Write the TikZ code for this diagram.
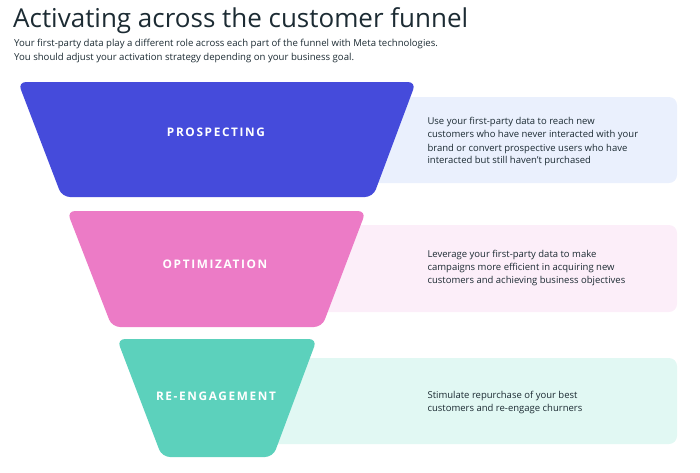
\documentclass[tikz,border=0pt]{standalone}
\usepackage{fontspec}
\usepackage{xcolor}
\setmainfont{Open Sans}
\newfontfamily\stagefont[LetterSpace=14]{Open Sans}
\usetikzlibrary{positioning}

\definecolor{prospblue}{HTML}{454BDB}
\definecolor{optpink}{HTML}{EC7BC6}
\definecolor{reteal}{HTML}{5CD1BC}
\definecolor{prospbg}{HTML}{EAF0FD}
\definecolor{optbg}{HTML}{FCEEF9}
\definecolor{rebg}{HTML}{E1F8F3}
\definecolor{inkgray}{HTML}{1C2B33}

\begin{document}
\begin{tikzpicture}[x=1pt,y=-1pt,
    stage/.style={text=white,font=\stagefont\bfseries\fontsize{11.8}{14}\selectfont},
    note/.style={anchor=west,align=left,text=inkgray,font=\fontsize{9.5}{13}\selectfont},
    panel/.style={rounded corners=8pt}]
  \useasboundingbox (0,0) rectangle (700,472);

  \node (title) [anchor=base west,text=inkgray,font=\fontsize{26}{30}\selectfont,inner sep=0pt] at (13,27) {Activating across the customer funnel};
  \node (intro) [anchor=north west,align=left,text=inkgray,font=\fontsize{9.6}{13.5}\selectfont,inner sep=0pt] at (14,39)
    {Your first-party data play a different role across each part of the funnel with Meta technologies.\\
     You should adjust your activation strategy depending on your business goal.};

  % background panels
  \fill[prospbg,panel] (216,97) rectangle (677,183);
  \fill[optbg,panel] (216,225) rectangle (677,312);
  \fill[rebg,panel] (216,358) rectangle (677,444);

  % funnel
  \fill[prospblue,panel] (18,82) -- (416,82) -- (373,197) -- (62,197) -- cycle;
  \fill[optpink,panel] (67,211) -- (366,211) -- (322,327) -- (112,327) -- cycle;
  \fill[reteal,panel] (117,339) -- (317,339) -- (273,457) -- (162,457) -- cycle;

  \node (prosp) [stage] at (216,132) {PROSPECTING};
  \node (optim) [stage] at (215,264) {OPTIMIZATION};
  \node (reeng) [stage] at (216,396) {RE-ENGAGEMENT};

  \node (prospnote) [note] at (424,142) {Use your first-party data to reach new\\customers who have never interacted with your\\brand or convert prospective users who have\\interacted but still haven't purchased};
  \node (optimnote) [note] at (424,268) {Leverage your first-party data to make\\campaigns more efficient in acquiring new\\customers and achieving business objectives};
  \node (reengnote) [note] at (424,402) {Stimulate repurchase of your best\\customers and re-engage churners};
\end{tikzpicture}
\end{document}
